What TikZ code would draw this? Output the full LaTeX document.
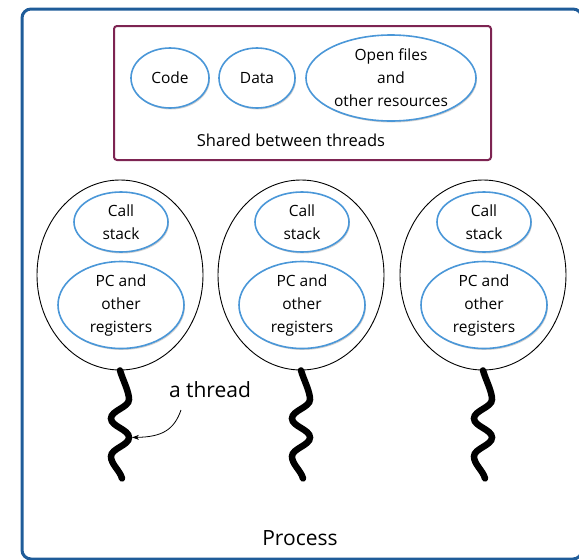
\documentclass[tikz,border=0pt]{standalone}
\usepackage{fontspec}
\setmainfont{Open Sans}
\usetikzlibrary{arrows.meta,shadows,shapes.geometric,calc}
\definecolor{outerblue}{HTML}{1F5C99}
\definecolor{sharedpurple}{HTML}{7D2452}
\definecolor{ellblue}{HTML}{4A97D8}
\tikzset{
  blueell/.style={ellipse, draw=ellblue, line width=1.6pt, fill=white, inner sep=0pt,
    align=center, font=\fontsize{15.5}{23}\selectfont,
    drop shadow={shadow xshift=1pt, shadow yshift=-1.5pt, opacity=0.18, fill=black}},
  threadell/.style={ellipse, draw=black, line width=0.9pt, inner sep=0pt,
    minimum width=166pt, minimum height=190pt},
  wavy/.style={line width=6.5pt, line cap=round, black},
  lbl/.style={inner sep=0pt}
}
\begin{document}
\begin{tikzpicture}[x=1pt,y=-1pt]
\useasboundingbox (0,0) rectangle (579,560);
\begin{scope}
  \clip (0,0) rectangle (579,560);
  \draw[outerblue, line width=3pt, rounded corners=9pt] (22,9) rectangle (582,559);
\end{scope}
% shared box
\node[draw=sharedpurple, line width=2pt, rounded corners=3pt, minimum width=377pt, minimum height=134pt, inner sep=0pt] (shared) at (302.5,93) {};
\node[blueell, minimum width=78pt, minimum height=60pt] (code) at (170,78) {Code};
\node[blueell, minimum width=76pt, minimum height=60pt] (data) at (257,78) {Data};
\node[blueell, minimum width=170pt, minimum height=86pt] (files) at (391,78) {Open files\\and\\other resources};
\node[lbl, font=\fontsize{16.5}{18}\selectfont] (sharedlbl) at (291,140) {Shared between threads};
% threads
\foreach \i/\cx in {1/120, 2/301, 3/483}{
  \node[threadell] (t\i) at (\cx,275) {};
  \node[blueell, minimum width=94pt, minimum height=60pt] (cs\i) at (\cx+1,222) {Call\\stack};
  \node[blueell, minimum width=126pt, minimum height=86pt] (pc\i) at (\cx+1,305) {PC and\\other\\registers};
  \draw[wavy] (t\i.south)
     .. controls +(3,10) and +(0,-8) .. ++(9,29)
     .. controls +(0,8) and +(0,-8) .. ++(-18,19)
     .. controls +(0,8) and +(0,-8) .. ++(18,19)
     .. controls +(0,8) and +(0,-8) .. ++(-18,19)
     .. controls +(0,8) and +(-2,-8) .. ++(11,22);
}
% arrow and label
\node[lbl, font=\fontsize{21}{22}\selectfont] (athread) at (210,390) {a thread};
\coordinate (arrstart) at (181,410);
\coordinate (arrend) at ($(t1.south)+(12,67)$);
\draw[-{Stealth[length=7pt,width=5pt]}, line width=0.8pt] (arrstart) .. controls (174,430) and (162,437) .. (arrend);
\node[lbl, font=\fontsize{21}{22}\selectfont] (process) at (300,538) {Process};
\end{tikzpicture}
\end{document}
